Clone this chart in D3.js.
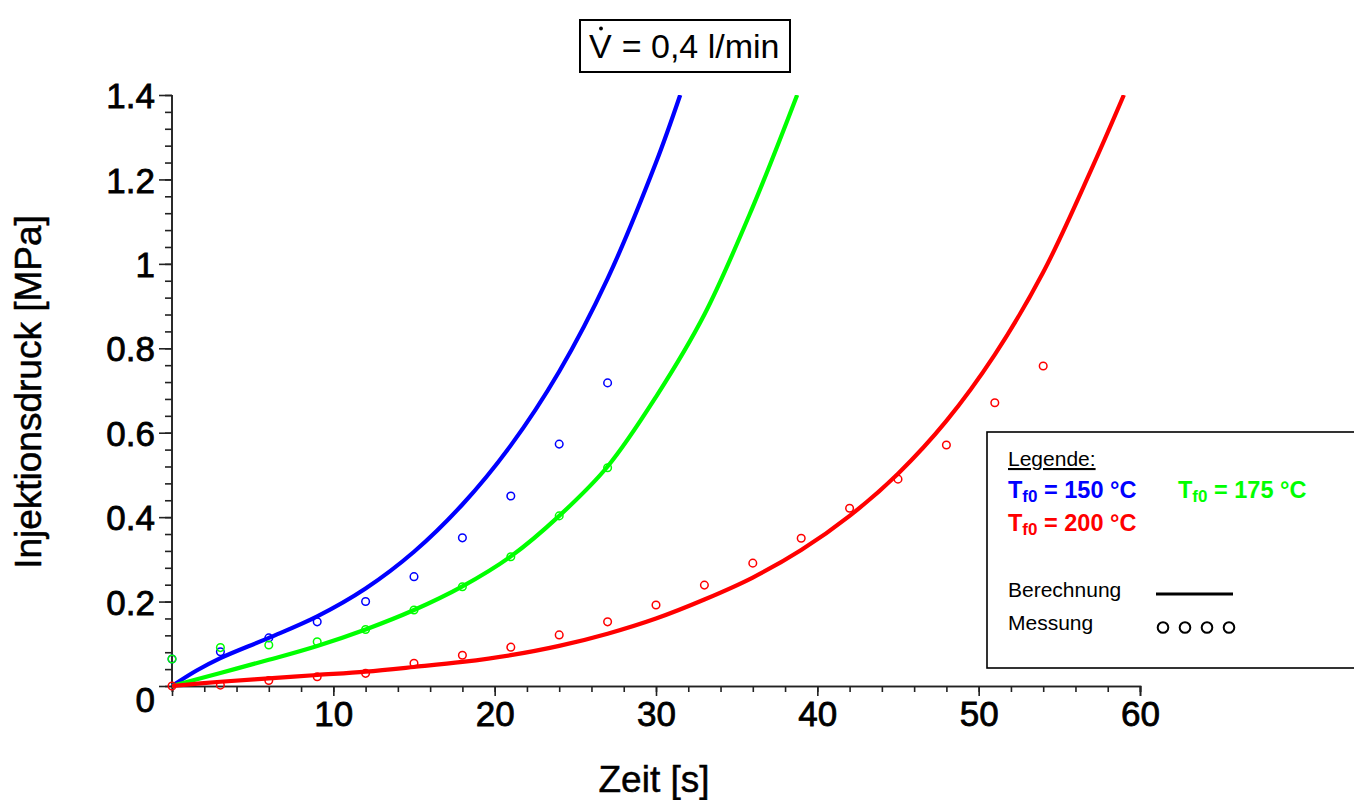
<!DOCTYPE html>
<html>
<head>
<meta charset="utf-8">
<script src="https://cdn.jsdelivr.net/npm/d3@7"></script>
<style>
  html, body { margin: 0; padding: 0; background: #fff; }
  svg { display: block; font-family: "Liberation Sans", Arial, sans-serif; }
</style>
</head>
<body>
<svg id="chart" width="1354" height="800"></svg>
<script>
// ---- data ----
const measTime = [0, 3, 6, 9, 12, 15, 18, 21, 24, 27];
const blueMeas = [0.064, 0.081, 0.114, 0.152, 0.200, 0.259, 0.351, 0.450, 0.573, 0.718];
const greenMeas = [0.064, 0.091, 0.097, 0.105, 0.134, 0.180, 0.235, 0.306, 0.403, 0.517];
const redMeasTime = [0, 3, 6, 9, 12, 15, 18, 21, 24, 27, 30, 33, 36, 39, 42, 45, 48, 51, 54];
const redMeas = [0, 0.002, 0.013, 0.022, 0.030, 0.054, 0.073, 0.092, 0.121, 0.152, 0.192, 0.239, 0.291, 0.350, 0.421, 0.490, 0.571, 0.671, 0.758];

const blueCurveT = [0, 1.5, 3, 6, 9, 12, 15, 18, 21, 24, 27, 30, 31.5];
const blueCurve = [0, 0.036, 0.066, 0.114, 0.165, 0.231, 0.318, 0.430, 0.570, 0.745, 0.965, 1.240, 1.400];
const greenCurveT = [0, 3, 6, 9, 12, 15, 18, 21, 24, 27, 30, 33, 36, 38.75];
const greenCurve = [0, 0.031, 0.062, 0.095, 0.134, 0.180, 0.236, 0.307, 0.403, 0.520, 0.685, 0.880, 1.135, 1.400];
const redCurveT = [0, 3, 6, 9, 12, 15, 18, 21, 24, 27, 30, 33, 36, 39, 42, 45, 48, 51, 54, 57, 59];
const redCurve = [0, 0.010, 0.018, 0.026, 0.034, 0.045, 0.057, 0.073, 0.095, 0.124, 0.160, 0.205, 0.257, 0.322, 0.403, 0.503, 0.628, 0.785, 0.980, 1.225, 1.400];

const xMajorTicks = [10, 20, 30, 40, 50, 60];
const yMajorTicks = [0, 0.2, 0.4, 0.6, 0.8, 1, 1.2, 1.4];
const yTickLabels = ["0", "0.2", "0.4", "0.6", "0.8", "1", "1.2", "1.4"];

const series = [
  { name: "150", color: "#0000ff", ct: blueCurveT, cv: blueCurve, mt: measTime, mv: blueMeas },
  { name: "175", color: "#00ff00", ct: greenCurveT, cv: greenCurve, mt: measTime, mv: greenMeas },
  { name: "200", color: "#ff0000", ct: redCurveT, cv: redCurve, mt: redMeasTime, mv: redMeas }
];

// ---- layout ----
const svg = d3.select("#chart");
const x = d3.scaleLinear().domain([0, 60]).range([172, 1140]);
const y = d3.scaleLinear().domain([0, 1.4]).range([686, 95]);

svg.append("clipPath").attr("id", "plotclip").append("rect")
  .attr("x", x(0) - 10).attr("y", y(1.4)).attr("width", x(60) - x(0) + 20).attr("height", y(0) - y(1.4) + 10);

const axisColor = "#222";
const tickFont = "'Liberation Sans', Arial, sans-serif";

// x axis
const xAxisMinor = d3.axisBottom(x).tickValues(d3.range(0, 60.01, 2)).tickSize(6).tickFormat("");
const gxm = svg.append("g").attr("transform", `translate(0,${y(0)})`).call(xAxisMinor);
const xAxisMajor = d3.axisBottom(x).tickValues(xMajorTicks).tickSize(10).tickPadding(5).tickFormat(d3.format("d"));
const gx = svg.append("g").attr("transform", `translate(0,${y(0)})`).call(xAxisMajor);
[gxm, gx].forEach(g => {
  g.select(".domain").attr("stroke", axisColor).attr("stroke-width", 1.6);
  g.selectAll(".tick line").attr("stroke", axisColor).attr("stroke-width", 1.6);
});
gx.selectAll(".tick text")
  .attr("font-size", 35).attr("fill", "#000").attr("font-family", tickFont)
  .attr("stroke", "#000").attr("stroke-width", 0.8);

// y axis
const yAxisMinor = d3.axisLeft(y).tickValues(d3.range(0, 1.401, 0.04)).tickSize(7).tickFormat("");
const gym = svg.append("g").attr("transform", `translate(${x(0)},0)`).call(yAxisMinor);
const yAxisMajor = d3.axisLeft(y).tickValues(yMajorTicks).tickSize(13).tickPadding(4)
  .tickFormat((d, i) => yTickLabels[i]);
const gy = svg.append("g").attr("transform", `translate(${x(0)},0)`).call(yAxisMajor);
[gym, gy].forEach(g => {
  g.select(".domain").attr("stroke", axisColor).attr("stroke-width", 1.6).attr("d", `M0,${y(1.4)}V${y(0)}`);
  g.selectAll(".tick line").attr("stroke", axisColor).attr("stroke-width", 1.6);
});
gy.selectAll(".tick text")
  .attr("font-size", 35).attr("fill", "#000").attr("font-family", tickFont)
  .attr("stroke", "#000").attr("stroke-width", 0.8)
  .attr("dy", (d) => d === 0 ? "0.72em" : "0.36em");

// axis titles
svg.append("text")
  .attr("x", (x(0) + x(60)) / 2 - 2).attr("y", 792)
  .attr("text-anchor", "middle").attr("font-size", 37)
  .attr("stroke", "#000").attr("stroke-width", 0.5)
  .text("Zeit [s]");
svg.append("text")
  .attr("transform", `translate(41,${392}) rotate(-90)`)
  .attr("text-anchor", "middle").attr("font-size", 37)
  .attr("stroke", "#000").attr("stroke-width", 0.5)
  .text("Injektionsdruck [MPa]");

// curves
const line = d3.line().x(d => x(d[0])).y(d => y(d[1])).curve(d3.curveCatmullRom.alpha(0.5));
const plot = svg.append("g").attr("clip-path", "url(#plotclip)");
series.forEach(s => {
  plot.append("path")
    .datum(s.ct.map((t, i) => [t, s.cv[i]]))
    .attr("fill", "none").attr("stroke", s.color).attr("stroke-width", 4.2)
    .attr("stroke-linejoin", "round")
    .attr("d", line);
});
// measurements
[series[2], series[0], series[1]].forEach(s => {
  svg.append("g").selectAll("circle")
    .data(s.mt.map((t, i) => [t, s.mv[i]]))
    .join("circle")
    .attr("cx", d => x(d[0])).attr("cy", d => y(d[1])).attr("r", 3.8)
    .attr("fill", "none").attr("stroke", s.color).attr("stroke-width", 1.5);
});

// title box
const title = svg.append("g");
title.append("rect")
  .attr("x", 580).attr("y", 20).attr("width", 210).attr("height", 52)
  .attr("fill", "#fff").attr("stroke", "#000").attr("stroke-width", 2);
const tt = title.append("text").attr("x", 589).attr("y", 58).attr("font-size", 34).attr("fill", "#000");
tt.append("tspan").text("V");
tt.append("tspan").attr("dx", 10).text("= 0,4 l/min");
title.append("circle").attr("cx", 601).attr("cy", 28.5).attr("r", 1.9).attr("fill", "#000");

// legend
const lg = svg.append("g");
lg.append("rect").attr("x", 987).attr("y", 432).attr("width", 400).attr("height", 236)
  .attr("fill", "#fff").attr("stroke", "#000").attr("stroke-width", 1.6);
lg.append("text").attr("x", 1008).attr("y", 466).attr("font-size", 21)
  .attr("text-decoration", "underline").text("Legende:");
const legItems = [
  { s: series[0], x: 1008, y: 498 },
  { s: series[1], x: 1178, y: 498 },
  { s: series[2], x: 1008, y: 531 }
];
legItems.forEach(it => {
  const t = lg.append("text").attr("x", it.x).attr("y", it.y)
    .attr("font-size", 23.5).attr("font-weight", "bold").attr("fill", it.s.color);
  t.append("tspan").text("T");
  t.append("tspan").attr("font-size", 17).attr("dy", 4).text("f0");
  t.append("tspan").attr("dy", -4).text(" = " + it.s.name + " °C");
});
lg.append("text").attr("x", 1008).attr("y", 597).attr("font-size", 21).text("Berechnung");
lg.append("line").attr("x1", 1156).attr("x2", 1233).attr("y1", 594).attr("y2", 594)
  .attr("stroke", "#000").attr("stroke-width", 3);
lg.append("text").attr("x", 1008).attr("y", 630).attr("font-size", 21).text("Messung");
lg.selectAll("circle.m").data([0, 1, 2, 3]).join("circle")
  .attr("cx", d => 1163 + d * 22).attr("cy", 627.5).attr("r", 5.3)
  .attr("fill", "none").attr("stroke", "#000").attr("stroke-width", 2);
</script>
</body>
</html>
